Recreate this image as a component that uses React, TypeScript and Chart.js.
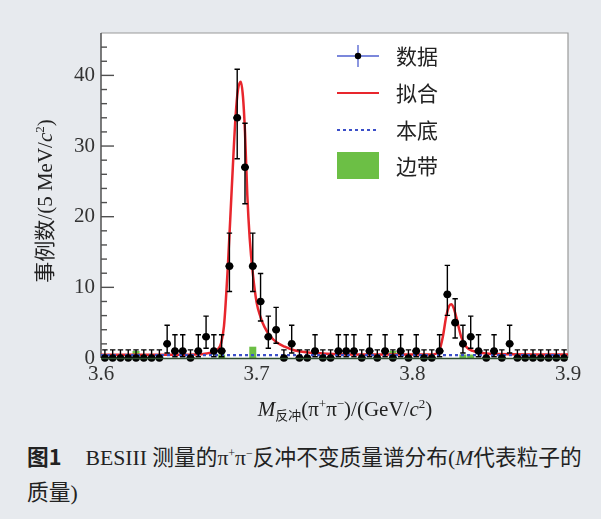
import React, { useEffect, useRef } from "react";
import { Chart, registerables } from "chart.js";

Chart.register(...registerables);

// ---------------- data ----------------
const binCenters = [
  3.6025, 3.6075, 3.6125, 3.6175, 3.6225, 3.6275, 3.6325, 3.6375, 3.6425, 3.6475,
  3.6525, 3.6575, 3.6625, 3.6675, 3.6725, 3.6775, 3.6825, 3.6875, 3.6925, 3.6975,
  3.7025, 3.7075, 3.7125, 3.7175, 3.7225, 3.7275, 3.7325, 3.7375, 3.7425, 3.7475,
  3.7525, 3.7575, 3.7625, 3.7675, 3.7725, 3.7775, 3.7825, 3.7875, 3.7925, 3.7975,
  3.8025, 3.8075, 3.8125, 3.8175, 3.8225, 3.8275, 3.8325, 3.8375, 3.8425, 3.8475,
  3.8525, 3.8575, 3.8625, 3.8675, 3.8725, 3.8775, 3.8825, 3.8875, 3.8925, 3.8975,
];
const binHalfWidth = 0.0025;

const counts = [
  0, 0, 0, 0, 0, 0, 0, 0, 2, 1,
  1, 0, 1, 3, 1, 1, 13, 34, 27, 13,
  8, 3, 4, 0, 2, 0, 0, 1, 0, 0,
  1, 1, 1, 0, 1, 0, 1, 0, 1, 0,
  1, 0, 0, 1, 9, 5, 2, 3, 1, 0,
  1, 0, 2, 0, 0, 0, 0, 0, 0, 0,
];

const sideband = [
  0, 0, 0, 0, 1, 0, 0, 0, 0, 0,
  0, 0, 0, 0, 0, 0.5, 0, 0, 0, 1.6,
  0, 0, 0, 0, 0, 0, 0, 0, 0, 0,
  0, 0, 0, 0, 0, 0, 0, 1, 0, 0,
  0, 0, 0, 0, 0, 0, 0.5, 0.5, 0, 0,
  0, 0, 0, 0, 0, 0, 0, 0, 0, 0,
];

// Poisson error table (count -> lower / upper error)
const errCounts = [0, 1, 2, 3, 4, 5, 8, 9, 13, 27, 34];
const errLow = [0, 0.83, 1.29, 1.63, 1.91, 2.16, 2.77, 2.96, 3.58, 5.16, 5.79];
const errHigh = [1.15, 2.3, 2.64, 2.92, 3.16, 3.38, 3.96, 4.11, 4.67, 6.23, 6.86];

const fitX = [
  3.6, 3.64, 3.66, 3.668, 3.672, 3.675, 3.677, 3.679, 3.6815, 3.684,
  3.6864, 3.688, 3.6898, 3.6912, 3.6925, 3.694, 3.6955, 3.6975, 3.7, 3.7025,
  3.705, 3.709, 3.713, 3.718, 3.724, 3.732, 3.745, 3.77, 3.812, 3.815,
  3.8174, 3.8196, 3.8217, 3.8235, 3.825, 3.8265, 3.8282, 3.8314, 3.8346, 3.8388,
  3.845, 3.855, 3.9,
];
const fitY = [
  0.45, 0.45, 0.5, 0.65, 0.85, 1.2, 2.0, 4.5, 13, 24,
  34, 38, 39.1, 37, 32, 23, 17, 12, 7.8, 5.8,
  4.4, 3.0, 2.2, 1.6, 1.1, 0.8, 0.6, 0.48, 0.48, 0.6,
  1.1, 3.0, 5.8, 7.3, 7.6, 7.1, 5.8, 3.0, 1.6, 1.0,
  0.7, 0.55, 0.48,
];

const bgX = [3.6, 3.9];
const bgY = [0.4, 0.4];

const xTickValues = [3.6, 3.7, 3.8, 3.9];
const yTickValues = [0, 2, 4, 6, 8, 10, 12, 14, 16, 18, 20, 22, 24, 26, 28, 30, 32, 34, 36, 38, 40, 42, 44];
const yMajorStep = 10;

const legendLabels = ["数据", "拟合", "本底", "边带"];

// ---------------- styles ----------------
const SERIF = '"Liberation Serif", "Noto Sans CJK SC", serif';
const CJK = '"Noto Sans CJK SC", sans-serif';
const PAGE_BG = "#e7eaee";
const RED = "#e8262d";
const BLUE = "#3b4fc8";
const GREEN = "#6cbf45";

function errFor(n: number): [number, number] {
  const i = errCounts.indexOf(n);
  if (i >= 0) return [errLow[i], errHigh[i]];
  return [Math.sqrt(n), Math.sqrt(n)];
}

type Piece = { t: string; font: string; dy?: number };

function drawPieces(ctx: CanvasRenderingContext2D, pieces: Piece[], cx: number, baseY: number) {
  let total = 0;
  for (const p of pieces) {
    ctx.font = p.font;
    total += ctx.measureText(p.t).width;
  }
  let x = cx - total / 2;
  for (const p of pieces) {
    ctx.font = p.font;
    ctx.fillText(p.t, x, baseY + (p.dy || 0));
    x += ctx.measureText(p.t).width;
  }
}

const decorPlugin = {
  id: "decor",
  beforeDraw(chart: any) {
    const { ctx, chartArea: a } = chart;
    ctx.save();
    ctx.fillStyle = PAGE_BG;
    ctx.fillRect(0, 0, chart.width, chart.height);
    ctx.fillStyle = "#ffffff";
    ctx.fillRect(a.left, a.top, a.right - a.left, a.bottom - a.top);
    ctx.restore();
  },
  beforeDatasetsDraw(chart: any) {
    const { ctx, chartArea: a } = chart;
    const ys = chart.scales.y;
    ctx.save();
    // frame
    ctx.lineWidth = 1.2;
    ctx.strokeStyle = "#9a9a9a";
    ctx.beginPath();
    ctx.moveTo(a.left, a.top);
    ctx.lineTo(a.right, a.top);
    ctx.lineTo(a.right, a.bottom);
    ctx.stroke();
    ctx.lineWidth = 1.5;
    ctx.strokeStyle = "#505050";
    ctx.beginPath();
    ctx.moveTo(a.left, a.top);
    ctx.lineTo(a.left, a.bottom);
    ctx.stroke();
    // inward y ticks
    ctx.lineWidth = 1.4;
    for (const t of ys.ticks) {
      const py = ys.getPixelForValue(t.value);
      const len = t.value % yMajorStep === 0 ? 13 : 6;
      ctx.beginPath();
      ctx.moveTo(a.left, py);
      ctx.lineTo(a.left + len, py);
      ctx.stroke();
    }
    ctx.restore();
  },
  beforeDatasetDraw(chart: any, args: any) {
    if (args.index !== 0) return;
    const { ctx } = chart;
    const xs = chart.scales.x;
    const ys = chart.scales.y;
    ctx.save();
    ctx.strokeStyle = "#000";
    for (let i = 0; i < binCenters.length; i++) {
      const n = counts[i];
      const [lo, hi] = errFor(n);
      const px = xs.getPixelForValue(binCenters[i]);
      const py = ys.getPixelForValue(n);
      const pTop = ys.getPixelForValue(n + hi);
      const pBot = ys.getPixelForValue(Math.max(n - lo, 0));
      ctx.lineWidth = 1.4;
      ctx.beginPath();
      ctx.moveTo(px, pTop);
      ctx.lineTo(px, pBot);
      ctx.moveTo(px - 2.7, pTop);
      ctx.lineTo(px + 2.7, pTop);
      if (n - lo > 0.05) {
        ctx.moveTo(px - 2.7, pBot);
        ctx.lineTo(px + 2.7, pBot);
      }
      ctx.stroke();
      ctx.lineWidth = 2;
      ctx.beginPath();
      ctx.moveTo(xs.getPixelForValue(binCenters[i] - binHalfWidth), py);
      ctx.lineTo(xs.getPixelForValue(binCenters[i] + binHalfWidth), py);
      ctx.stroke();
    }
    ctx.restore();
  },
  afterDraw(chart: any) {
    const { ctx, chartArea: a } = chart;
    ctx.save();
    // bottom line (sideband histogram zero level)
    ctx.strokeStyle = "#2f4d2f";
    ctx.lineWidth = 1.5;
    ctx.beginPath();
    ctx.moveTo(a.left, a.bottom + 0.5);
    ctx.lineTo(a.right, a.bottom + 0.5);
    ctx.stroke();

    // legend
    const lx0 = 337, lx1 = 379, tx = 396;
    const rows = [56, 93, 130, 166];
    ctx.textBaseline = "middle";
    ctx.fillStyle = "#222";
    ctx.font = `21px ${CJK}`;
    rows.forEach((y, i) => ctx.fillText(legendLabels[i], tx, y));
    // data symbol
    ctx.strokeStyle = "#5060d0";
    ctx.lineWidth = 1.3;
    ctx.beginPath();
    ctx.moveTo(lx0, rows[0]);
    ctx.lineTo(lx1, rows[0]);
    ctx.moveTo((lx0 + lx1) / 2, rows[0] - 11);
    ctx.lineTo((lx0 + lx1) / 2, rows[0] + 11);
    ctx.stroke();
    ctx.fillStyle = "#000";
    ctx.beginPath();
    ctx.arc((lx0 + lx1) / 2, rows[0], 3.2, 0, Math.PI * 2);
    ctx.fill();
    // fit
    ctx.strokeStyle = RED;
    ctx.lineWidth = 2;
    ctx.beginPath();
    ctx.moveTo(lx0, rows[1]);
    ctx.lineTo(lx1, rows[1]);
    ctx.stroke();
    // background
    ctx.strokeStyle = BLUE;
    ctx.setLineDash([3, 3]);
    ctx.lineWidth = 2;
    ctx.beginPath();
    ctx.moveTo(lx0, rows[2]);
    ctx.lineTo(lx1, rows[2]);
    ctx.stroke();
    ctx.setLineDash([]);
    // sideband
    ctx.fillStyle = GREEN;
    ctx.fillRect(lx0, rows[3] - 14, lx1 - lx0, 27);

    // axis titles
    ctx.fillStyle = "#222";
    ctx.textBaseline = "alphabetic";
    drawPieces(
      ctx,
      [
        { t: "M", font: `italic 21px ${SERIF}` },
        { t: "反冲", font: `13px ${CJK}`, dy: 4 },
        { t: "(π", font: `21px ${SERIF}` },
        { t: "+", font: `13px ${SERIF}`, dy: -8 },
        { t: "π", font: `21px ${SERIF}` },
        { t: "−", font: `13px ${SERIF}`, dy: -8 },
        { t: ")/(GeV/", font: `21px ${SERIF}` },
        { t: "c", font: `italic 21px ${SERIF}` },
        { t: "2", font: `13px ${SERIF}`, dy: -8 },
        { t: ")", font: `21px ${SERIF}` },
      ],
      345,
      416
    );
    ctx.translate(45, 201);
    ctx.rotate(-Math.PI / 2);
    drawPieces(
      ctx,
      [
        { t: "事例数", font: `21px ${CJK}` },
        { t: "/(5 MeV/", font: `21px ${SERIF}` },
        { t: "c", font: `italic 21px ${SERIF}` },
        { t: "2", font: `13px ${SERIF}`, dy: -8 },
        { t: ")", font: `21px ${SERIF}` },
      ],
      0,
      7
    );
    ctx.restore();
  },
};

export default function App() {
  const ref = useRef<HTMLCanvasElement | null>(null);

  useEffect(() => {
    if (!ref.current) return;
    const chart = new Chart(ref.current, {
      type: "line",
      data: {
        datasets: [
          {
            type: "line",
            label: legendLabels[0],
            data: binCenters.map((x, i) => ({ x, y: counts[i] })),
            showLine: false,
            pointRadius: 3.8,
            pointStyle: "circle",
            pointBackgroundColor: "#000",
            pointBorderColor: "#000",
            pointBorderWidth: 0,
            clip: false,
            order: 0,
          } as any,
          {
            type: "line",
            label: legendLabels[2],
            data: bgX.map((x, i) => ({ x, y: bgY[i] })),
            borderColor: BLUE,
            borderWidth: 2.2,
            borderDash: [3, 3],
            pointRadius: 0,
            order: 1,
          },
          {
            type: "line",
            label: legendLabels[1],
            data: fitX.map((x, i) => ({ x, y: fitY[i] })),
            borderColor: RED,
            borderWidth: 2.5,
            pointRadius: 0,
            cubicInterpolationMode: "monotone",
            order: 2,
          },
          {
            type: "bar",
            label: legendLabels[3],
            data: binCenters.map((x, i) => ({ x, y: sideband[i] })),
            backgroundColor: GREEN,
            borderWidth: 0,
            barPercentage: 0.9,
            categoryPercentage: 1,
            order: 3,
          } as any,
        ],
      },
      options: {
        responsive: false,
        animation: false,
        events: [],
        layout: { padding: { top: 33, right: 33, bottom: 0, left: 0 } },
        plugins: { legend: { display: false }, tooltip: { enabled: false } },
        scales: {
          x: {
            type: "linear",
            min: 3.6,
            max: 3.9,
            offset: false,
            grid: { display: false, drawTicks: false },
            border: { display: false },
            afterBuildTicks: (s: any) => {
              s.ticks = xTickValues.map((v) => ({ value: v }));
            },
            afterFit: (s: any) => {
              s.height = 72;
            },
            ticks: {
              autoSkip: false,
              maxRotation: 0,
              padding: 4,
              color: "#333",
              font: { family: SERIF, size: 21 },
              callback: (v: any) => Number(v).toFixed(1),
            },
          },
          y: {
            type: "linear",
            min: 0,
            max: 46,
            grid: { display: false, drawTicks: false },
            border: { display: false },
            afterBuildTicks: (s: any) => {
              s.ticks = yTickValues.map((v) => ({ value: v }));
            },
            afterFit: (s: any) => {
              s.width = 101;
            },
            ticks: {
              autoSkip: false,
              padding: 6,
              color: "#333",
              font: { family: SERIF, size: 21 },
              callback: (v: any) => (Number(v) % yMajorStep === 0 ? String(v) : ""),
            },
          },
        },
      },
      plugins: [decorPlugin],
    });
    return () => chart.destroy();
  }, []);

  const sup: React.CSSProperties = { fontSize: "0.55em", verticalAlign: "super", lineHeight: 0 };

  return (
    <div style={{ position: "fixed", left: 0, top: 0, width: 601, height: 519, background: PAGE_BG, overflow: "hidden" }}>
      <canvas ref={ref} width={601} height={430} style={{ position: "absolute", left: 0, top: 0, width: 601, height: 430 }} />
      <div
        style={{
          position: "absolute",
          left: 27,
          top: 438,
          fontSize: 21.7,
          lineHeight: "35px",
          color: "#222",
          whiteSpace: "nowrap",
          fontFamily: SERIF,
        }}
      >
        <span style={{ fontFamily: CJK, fontWeight: 700 }}>图1</span>
        <span style={{ marginLeft: 24 }}>
          BESIII 测量的π<span style={sup}>+</span>π<span style={sup}>−</span>反冲不变质量谱分布(<i>M</i>代表粒子的
        </span>
        <br />
        质量)
      </div>
    </div>
  );
}
